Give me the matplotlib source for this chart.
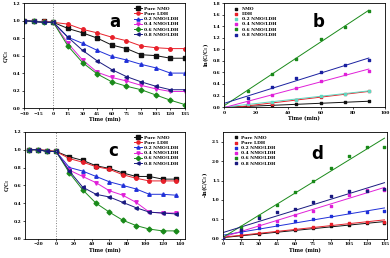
import numpy as np
import matplotlib
matplotlib.use('Agg')
import matplotlib.pyplot as plt

names_a = ['Pure NMO', 'Pure LDH', '0.2 NMO/LDH', '0.4 NMO/LDH', '0.6 NMO/LDH', '0.8 NMO/LDH']
names_b = ['NMO', 'LDH', '0.2 NMO/LDH', '0.4 NMO/LDH', '0.6 NMO/LDH', '0.8 NMO/LDH']
names_d = ['Pure NMO', 'Pure LDH', '0.2 NMO/LDH', '0.4 NMO/LDH', '0.6 NMO/LDH', '0.8 NMO/LDH']

t_ac = [-30, -20, -10, 0, 15, 30, 45, 60, 75, 90, 105, 120, 135]
t_b = [15, 30, 45, 60, 75, 90]
t_d = [0, 15, 30, 45, 60, 75, 90, 105, 120, 135]

a_vals = [
    [1.0, 0.99, 0.99, 0.98, 0.91, 0.86, 0.80, 0.72, 0.68, 0.61, 0.60, 0.57, 0.57],
    [1.0, 0.99, 0.99, 0.98, 0.96, 0.90, 0.86, 0.81, 0.77, 0.71, 0.69, 0.68, 0.68],
    [1.0, 0.99, 0.98, 0.98, 0.81, 0.74, 0.66, 0.59, 0.55, 0.50, 0.46, 0.40, 0.40],
    [1.0, 0.99, 0.98, 0.98, 0.74, 0.55, 0.41, 0.35, 0.31, 0.26, 0.22, 0.19, 0.19],
    [1.0, 0.99, 0.98, 0.98, 0.71, 0.52, 0.39, 0.30, 0.25, 0.21, 0.15, 0.09, 0.04],
    [1.0, 0.99, 0.98, 0.98, 0.81, 0.66, 0.54, 0.44, 0.36, 0.30, 0.25, 0.21, 0.21],
]
b_vals = [
    [0.01, 0.03, 0.05, 0.07, 0.08, 0.10],
    [0.03, 0.06, 0.12, 0.18, 0.22, 0.27],
    [0.05, 0.09, 0.13, 0.20, 0.23, 0.28],
    [0.09, 0.21, 0.33, 0.45, 0.57, 0.63],
    [0.28, 0.58, 0.84, 1.17, 1.39, 1.66],
    [0.15, 0.34, 0.50, 0.60, 0.72, 0.82],
]
c_vals = [
    [1.0, 1.0, 0.99, 0.98, 0.92, 0.88, 0.82, 0.79, 0.74, 0.70, 0.70, 0.67, 0.67],
    [1.0, 1.0, 0.99, 0.98, 0.90, 0.86, 0.81, 0.78, 0.72, 0.68, 0.65, 0.65, 0.65],
    [1.0, 1.0, 0.98, 0.98, 0.80, 0.76, 0.70, 0.64, 0.60, 0.56, 0.50, 0.50, 0.49],
    [1.0, 1.0, 0.98, 0.98, 0.77, 0.70, 0.63, 0.54, 0.49, 0.41, 0.30, 0.29, 0.29],
    [1.0, 1.0, 0.98, 0.98, 0.74, 0.55, 0.40, 0.30, 0.21, 0.15, 0.11, 0.09, 0.09],
    [1.0, 1.0, 0.98, 0.98, 0.76, 0.58, 0.50, 0.47, 0.41, 0.35, 0.30, 0.29, 0.28],
]
d_vals = [
    [0.0, 0.08, 0.12, 0.19, 0.23, 0.28, 0.34, 0.36, 0.40, 0.40],
    [0.0, 0.10, 0.14, 0.21, 0.25, 0.31, 0.38, 0.42, 0.43, 0.43],
    [0.0, 0.19, 0.27, 0.35, 0.45, 0.52, 0.58, 0.69, 0.70, 0.71],
    [0.0, 0.25, 0.36, 0.46, 0.61, 0.71, 0.85, 1.12, 1.25, 1.25],
    [0.0, 0.30, 0.58, 0.88, 1.20, 1.50, 1.83, 2.12, 2.37, 2.37],
    [0.0, 0.22, 0.54, 0.70, 0.77, 0.96, 1.11, 1.22, 1.24, 1.28],
]

cols = ['#111111', '#e8202a', '#2030d8', '#e020d8', '#1a8a1a', '#1a1a80']
cols_b = ['#111111', '#e8202a', '#60d8c0', '#e020d8', '#1a8a1a', '#1a20a0']
marks = ['s', 'o', '^', 'v', 'D', '<']

fs = 3.6
serif = {'family': 'DejaVu Serif', 'weight': 'bold', 'size': fs}

fig = plt.figure(figsize=(3.9, 2.58), dpi=100)
axa = fig.add_axes([0.0615, 0.581, 0.413, 0.407])
axb = fig.add_axes([0.574, 0.585, 0.413, 0.403])
axc = fig.add_axes([0.064, 0.074, 0.41, 0.415])
axd = fig.add_axes([0.572, 0.074, 0.42, 0.415])

# decay curves
for ax, vals in [(axa, a_vals), (axc, c_vals)]:
    for i in range(6):
        ax.plot(t_ac, vals[i], color=cols[i], marker=marks[i], ms=2.5, lw=0.7, label=names_a[i])
    ax.axvline(0, color='gray', ls=':', lw=0.7)
    ax.set_ylim(0, 1.2)
    ax.set_yticks(np.arange(0, 1.21, 0.2))
    ax.set_ylabel('C/C$_0$', fontdict=serif, labelpad=1)

axa.set_xlim(-30, 135)
axa.set_xticks(np.arange(-30, 136, 15))
axc.set_xlim(-35, 145)
axc.set_xticks(np.arange(-20, 141, 20))

# kinetics: scatter + linear fit
tb = np.array(t_b)
for i in range(6):
    axb.scatter(tb, b_vals[i], color=cols_b[i], marker='s', s=4, label=names_b[i], zorder=3)
    p = np.polyfit(tb, b_vals[i], 1)
    xx = np.array([0, 90])
    axb.plot(xx, np.polyval(p, xx), color=cols_b[i], lw=0.7)
axb.set_xlim(0, 100)
axb.set_ylim(0, 1.8)
axb.set_xticks(np.arange(0, 101, 20))
axb.set_yticks(np.arange(0, 1.81, 0.2))
axb.set_ylabel('ln(C/C$_0$)', fontdict=serif, labelpad=1)

td = np.array(t_d)
for i in range(6):
    axd.scatter(td, d_vals[i], color=cols[i], marker='s', s=4, label=names_d[i], zorder=3)
    p = np.polyfit(td, d_vals[i], 1)
    xx = np.array([0, 135])
    axd.plot(xx, np.polyval(p, xx), color=cols[i], lw=0.7)
axd.set_xlim(0, 137)
axd.set_ylim(0, 2.75)
axd.set_xticks(np.arange(0, 136, 15))
axd.set_yticks(np.arange(0, 2.51, 0.5))
axd.set_ylabel('-ln(C/C$_0$)', fontdict=serif, labelpad=1)

for ax, letter, pos in [(axa, 'a', (0.53, 0.77)), (axb, 'b', (0.55, 0.77)),
                        (axc, 'c', (0.52, 0.77)), (axd, 'd', (0.54, 0.75))]:
    ax.set_xlabel('Time (min)', fontdict=serif, labelpad=1)
    ax.tick_params(labelsize=3.2, length=1.5, width=0.5, pad=1, direction='out')
    for lab in ax.get_xticklabels() + ax.get_yticklabels():
        lab.set_family('DejaVu Serif')
        lab.set_weight('bold')
    for s in ax.spines.values():
        s.set_linewidth(0.6)
    ax.text(pos[0], pos[1], letter, transform=ax.transAxes, fontsize=12, fontweight='bold')
    ax.legend(loc='upper left', bbox_to_anchor=(0.03 if ax in (axb, axd) else 0.66, 1.0),
              frameon=False, prop={'family': 'DejaVu Serif', 'weight': 'bold', 'size': 3.2},
              handlelength=1.8, labelspacing=0.25, borderpad=0.3, handletextpad=0.4,
              markerscale=0.9)

fig.savefig('out.png', dpi=100)
